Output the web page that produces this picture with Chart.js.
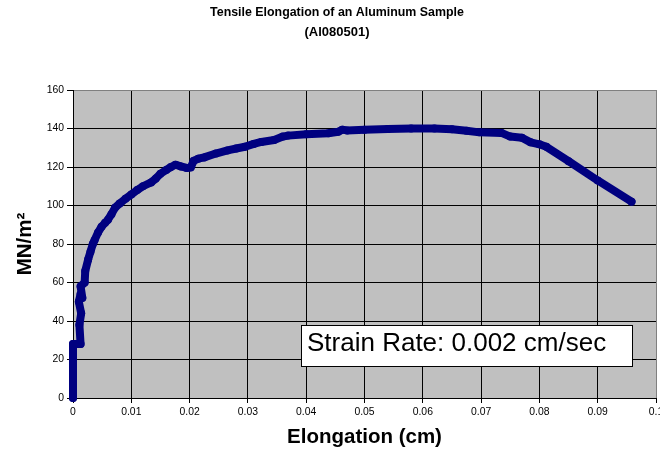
<!DOCTYPE html>
<html>
<head>
<meta charset="utf-8">
<script src="https://cdn.jsdelivr.net/npm/chart.js@4.4.1/dist/chart.umd.min.js"></script>
<style>
  body { margin: 0; background: #fff; }
  canvas { display: block; }
</style>
</head>
<body>
<canvas id="tensileChart" width="660" height="458"></canvas>
<script>
// Elongation (cm) and stress (MN/m2)
const elongation = [
  0, 0, 0.0013, 0.0011, 0.0014, 0.0010, 0.0013, 0.0016, 0.0013, 0.0020,
  0.0021, 0.0026, 0.0030, 0.0034, 0.0037, 0.0043, 0.0049, 0.0055, 0.0060, 0.0066,
  0.0072, 0.0080, 0.0090, 0.0100, 0.0110, 0.0120, 0.0134, 0.0142, 0.0150, 0.0160,
  0.0168, 0.0176, 0.0185, 0.0195, 0.0202, 0.0207, 0.0215, 0.0225, 0.0245, 0.0265,
  0.0280, 0.0295, 0.0310, 0.0323, 0.0345, 0.0360, 0.0369, 0.0400, 0.0438, 0.0455,
  0.0462, 0.0470, 0.0500, 0.0540, 0.0580, 0.0620, 0.0650, 0.0675, 0.0697, 0.0735,
  0.0750, 0.0770, 0.0785, 0.0800, 0.0812, 0.0850, 0.0900, 0.0958
];
const stress = [
  0, 28, 28, 38, 44, 50, 54, 52, 58, 60,
  66, 72, 76, 80, 82, 86, 89, 91, 92.6, 95.5,
  98.8, 101, 103.5, 105.7, 108, 110, 112, 114, 116.5, 118.5,
  120, 121.2, 120.3, 119.5, 119.8, 123.2, 124.3, 125, 127, 128.6,
  129.6, 130.5, 132, 133, 134, 135.8, 136.3, 137, 137.5, 138.3,
  139.4, 139, 139.3, 139.7, 140, 140, 139.6, 138.8, 138, 137.7,
  135.8, 135.2, 132.8, 131.8, 130.5, 123, 113, 102
];

const titleLines = ["Tensile Elongation of an Aluminum Sample", "(Al080501)"];
const noteText = "Strain Rate: 0.002 cm/sec";
const FONT = "'Liberation Sans', Arial, sans-serif";

const points = elongation.map((x, i) => ({ x: x, y: stress[i] }));

// gray plot background, title and the strain-rate note
const decorations = {
  id: "decorations",
  beforeDraw(chart) {
    const { ctx, chartArea: a } = chart;
    ctx.save();
    ctx.fillStyle = "#C0C0C0";
    ctx.fillRect(a.left, a.top, a.right - a.left, a.bottom - a.top);
    ctx.restore();
  },
  afterDraw(chart) {
    const { ctx, chartArea: a } = chart;
    ctx.save();
    ctx.fillStyle = "#000";
    ctx.textAlign = "center";
    ctx.textBaseline = "middle";
    ctx.font = "bold 12.4px " + FONT;
    ctx.fillText(titleLines[0], 337, 12.5);
    ctx.font = "bold 13px " + FONT;
    ctx.fillText(titleLines[1], 337, 32);

    // note box, placed relative to the plot area
    const bx = a.left + 228, by = a.top + 235, bw = 331, bh = 41;
    ctx.fillStyle = "#fff";
    ctx.fillRect(bx, by, bw, bh);
    ctx.strokeStyle = "#000";
    ctx.lineWidth = 1;
    ctx.strokeRect(bx + 0.5, by + 0.5, bw, bh);
    ctx.fillStyle = "#000";
    ctx.textAlign = "left";
    ctx.textBaseline = "alphabetic";
    ctx.font = "26px " + FONT;
    ctx.fillText(noteText, bx + 6, by + 26);
    ctx.restore();
  }
};

new Chart(document.getElementById("tensileChart").getContext("2d"), {
  type: "scatter",
  data: {
    datasets: [{
      data: points,
      showLine: true,
      clip: 6,
      borderColor: "#000080",
      backgroundColor: "#000080",
      borderWidth: 8,
      borderCapStyle: "round",
      borderJoinStyle: "round",
      pointRadius: 4,
      pointBorderWidth: 0,
      tension: 0
    }]
  },
  options: {
    responsive: false,
    animation: false,
    layout: { padding: { top: 90, right: 4, left: 0, bottom: 0 } },
    plugins: { legend: { display: false }, tooltip: { enabled: false } },
    scales: {
      x: {
        type: "linear",
        min: 0,
        max: 0.1,
        afterFit: s => { s.height = 60; s.paddingRight = 0; s.paddingLeft = 0; },
        ticks: {
          stepSize: 0.01,
          autoSkip: false,
          maxRotation: 0,
          padding: 3,
          color: "#000",
          font: { family: FONT, size: 10.4 },
          callback: v => String(Number(v.toFixed(2)))
        },
        grid: {
          color: c => (c.index === 10 ? "#808080" : "#000"),
          tickColor: "#000",
          tickLength: 5,
          lineWidth: 1
        },
        border: { color: "#000" },
        title: {
          display: true,
          text: "Elongation (cm)",
          color: "#000",
          font: { family: FONT, size: 20.5, weight: "bold" },
          padding: { top: 0, bottom: 8.7 }
        }
      },
      y: {
        min: 0,
        max: 160,
        afterFit: s => { s.width = 73; },
        ticks: {
          stepSize: 20,
          padding: 3,
          color: "#000",
          font: { family: FONT, size: 10.4 }
        },
        grid: {
          color: c => (c.tick && c.tick.value === 160 ? "#808080" : "#000"),
          tickColor: "#000",
          tickLength: 6,
          lineWidth: 1
        },
        border: { color: "#000" },
        title: {
          display: true,
          text: "MN/m²",
          color: "#000",
          font: { family: FONT, size: 20.5, weight: "bold" },
          padding: { top: 13.2, bottom: 0 }
        }
      }
    }
  },
  plugins: [decorations]
});
</script>
</body>
</html>
